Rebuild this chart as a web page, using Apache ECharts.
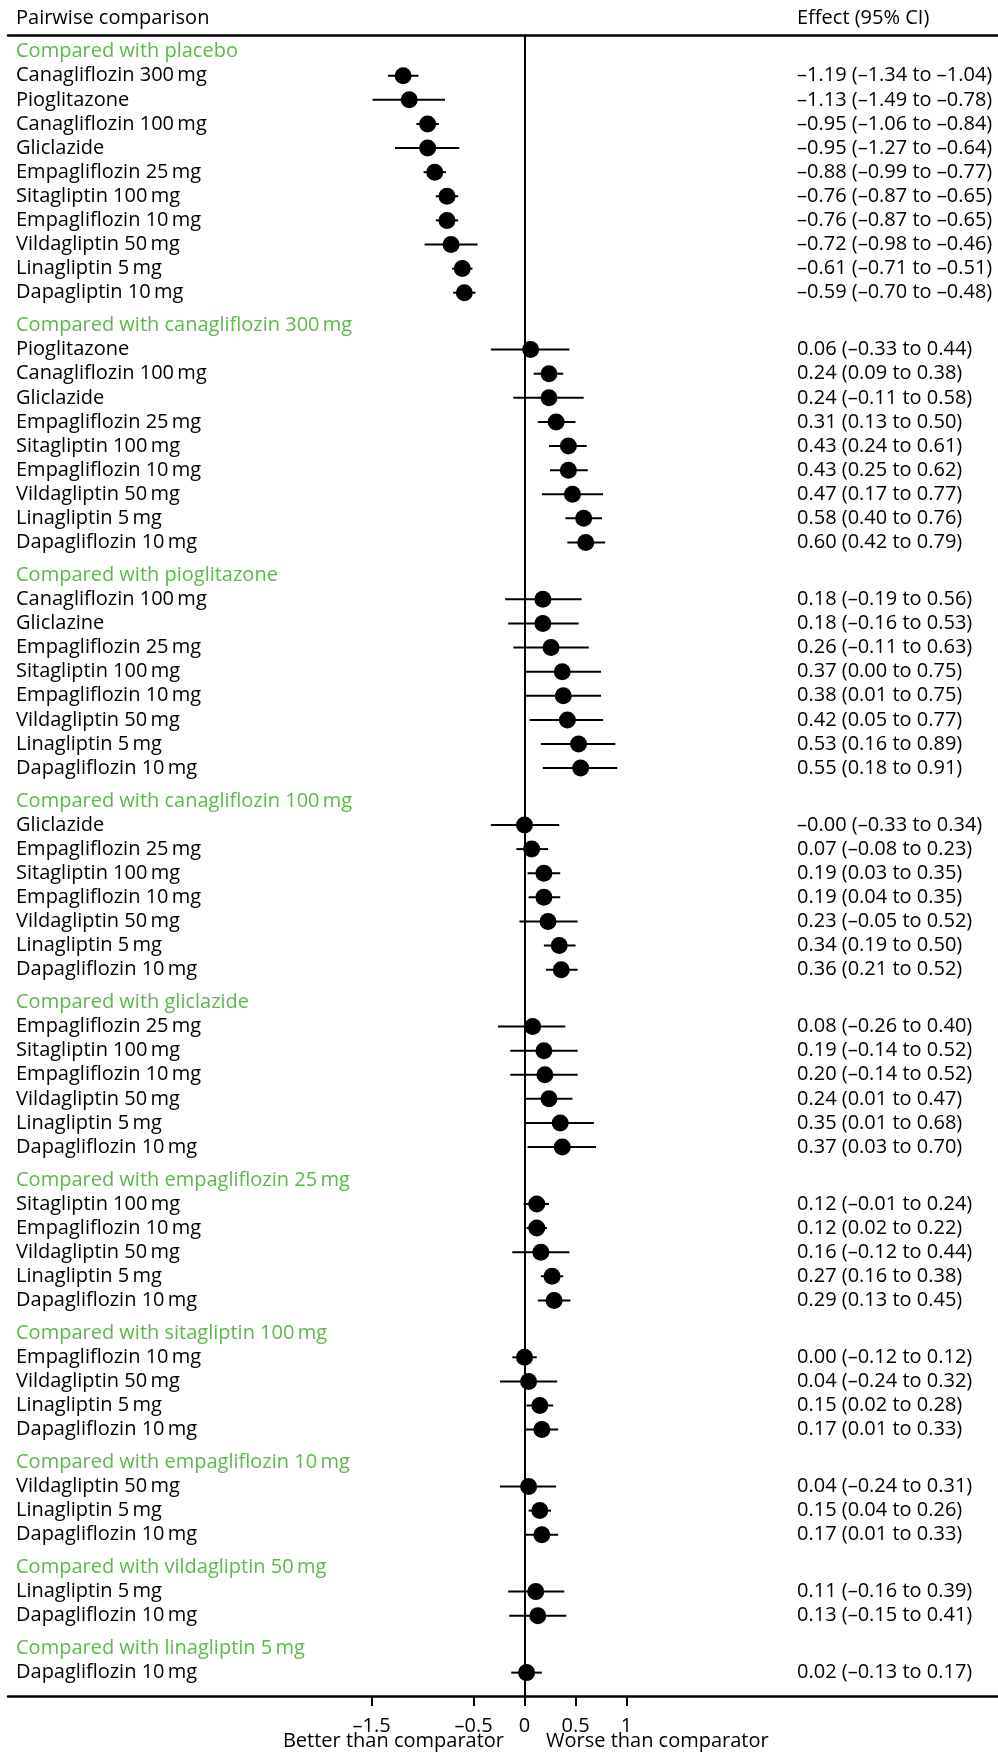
<!DOCTYPE html>
<html><head><meta charset="utf-8">
<script src="https://cdn.jsdelivr.net/npm/echarts@6/dist/echarts.min.js"></script>
<style>html,body{margin:0;padding:0;background:#fff}#c{width:998px;height:1753px}</style>
</head><body><div id="c"></div><script>
const groupTitles = [
  'Compared with placebo',
  'Compared with canagliflozin 300\u2009mg',
  'Compared with pioglitazone',
  'Compared with canagliflozin 100\u2009mg',
  'Compared with gliclazide',
  'Compared with empagliflozin 25\u2009mg',
  'Compared with sitagliptin 100\u2009mg',
  'Compared with empagliflozin 10\u2009mg',
  'Compared with vildagliptin 50\u2009mg',
  'Compared with linagliptin 5\u2009mg'
];
const rowGroup = [
  0,0,0,0,0,0,0,0,0,0,
  1,1,1,1,1,1,1,1,1,
  2,2,2,2,2,2,2,2,
  3,3,3,3,3,3,3,
  4,4,4,4,4,4,
  5,5,5,5,5,
  6,6,6,6,
  7,7,7,
  8,8,
  9
];
const rowLabels = [
  'Canagliflozin 300\u2009mg','Pioglitazone','Canagliflozin 100\u2009mg','Gliclazide','Empagliflozin 25\u2009mg','Sitagliptin 100\u2009mg','Empagliflozin 10\u2009mg','Vildagliptin 50\u2009mg','Linagliptin 5\u2009mg','Dapagliptin 10\u2009mg',
  'Pioglitazone','Canagliflozin 100\u2009mg','Gliclazide','Empagliflozin 25\u2009mg','Sitagliptin 100\u2009mg','Empagliflozin 10\u2009mg','Vildagliptin 50\u2009mg','Linagliptin 5\u2009mg','Dapagliflozin 10\u2009mg',
  'Canagliflozin 100\u2009mg','Gliclazine','Empagliflozin 25\u2009mg','Sitagliptin 100\u2009mg','Empagliflozin 10\u2009mg','Vildagliptin 50\u2009mg','Linagliptin 5\u2009mg','Dapagliflozin 10\u2009mg',
  'Gliclazide','Empagliflozin 25\u2009mg','Sitagliptin 100\u2009mg','Empagliflozin 10\u2009mg','Vildagliptin 50\u2009mg','Linagliptin 5\u2009mg','Dapagliflozin 10\u2009mg',
  'Empagliflozin 25\u2009mg','Sitagliptin 100\u2009mg','Empagliflozin 10\u2009mg','Vildagliptin 50\u2009mg','Linagliptin 5\u2009mg','Dapagliflozin 10\u2009mg',
  'Sitagliptin 100\u2009mg','Empagliflozin 10\u2009mg','Vildagliptin 50\u2009mg','Linagliptin 5\u2009mg','Dapagliflozin 10\u2009mg',
  'Empagliflozin 10\u2009mg','Vildagliptin 50\u2009mg','Linagliptin 5\u2009mg','Dapagliflozin 10\u2009mg',
  'Vildagliptin 50\u2009mg','Linagliptin 5\u2009mg','Dapagliflozin 10\u2009mg',
  'Linagliptin 5\u2009mg','Dapagliflozin 10\u2009mg',
  'Dapagliflozin 10\u2009mg'
];
const effect = [
  -1.19,-1.13,-0.95,-0.95,-0.88,-0.76,-0.76,-0.72,-0.61,-0.59,
  0.06,0.24,0.24,0.31,0.43,0.43,0.47,0.58,0.60,
  0.18,0.18,0.26,0.37,0.38,0.42,0.53,0.55,
  -0.00,0.07,0.19,0.19,0.23,0.34,0.36,
  0.08,0.19,0.20,0.24,0.35,0.37,
  0.12,0.12,0.16,0.27,0.29,
  0.00,0.04,0.15,0.17,
  0.04,0.15,0.17,
  0.11,0.13,
  0.02
];
const lower = [
  -1.34,-1.49,-1.06,-1.27,-0.99,-0.87,-0.87,-0.98,-0.71,-0.70,
  -0.33,0.09,-0.11,0.13,0.24,0.25,0.17,0.40,0.42,
  -0.19,-0.16,-0.11,0.00,0.01,0.05,0.16,0.18,
  -0.33,-0.08,0.03,0.04,-0.05,0.19,0.21,
  -0.26,-0.14,-0.14,0.01,0.01,0.03,
  -0.01,0.02,-0.12,0.16,0.13,
  -0.12,-0.24,0.02,0.01,
  -0.24,0.04,0.01,
  -0.16,-0.15,
  -0.13
];
const upper = [
  -1.04,-0.78,-0.84,-0.64,-0.77,-0.65,-0.65,-0.46,-0.51,-0.48,
  0.44,0.38,0.58,0.50,0.61,0.62,0.77,0.76,0.79,
  0.56,0.53,0.63,0.75,0.75,0.77,0.89,0.91,
  0.34,0.23,0.35,0.35,0.52,0.50,0.52,
  0.40,0.52,0.52,0.47,0.68,0.70,
  0.24,0.22,0.44,0.38,0.45,
  0.12,0.32,0.28,0.33,
  0.31,0.26,0.33,
  0.39,0.41,
  0.17
];
const tickValues = [-1.5, -0.5, 0, 0.5, 1];

// ---- layout (row units) ----
const GAP = 1.36;
const lines = [];
const rowY = [];
let cursor = 0, prev = -1;
rowLabels.forEach((lab, i) => {
  const g = rowGroup[i];
  if (g !== prev) {
    if (prev !== -1) cursor += GAP;
    lines.push({ header: true, text: groupTitles[g], y: cursor });
    prev = g;
  }
  cursor += 1;
  rowY[i] = cursor;
  lines.push({ header: false, i: i, y: cursor });
});
const yMin = -0.69, yMax = cursor + 0.97;

function fmt(v) {
  const neg = v < 0 || Object.is(v, -0);
  return (neg ? '\u2013' : '') + Math.abs(v).toFixed(2);
}
const FONT = '"Open Sans", "Noto Sans", sans-serif';
const GREEN = '#5cb84c';

const chart = echarts.init(document.getElementById('c'), null, { renderer: 'canvas' });
chart.setOption({
  animation: false,
  backgroundColor: '#fff',
  grid: { left: 8, right: 0, top: 35, bottom: 57, outerBoundsMode: 'none' },
  xAxis: [{
    type: 'value', position: 'bottom', min: -5.064, max: 4.642,
    axisLine: { show: true, onZero: false, lineStyle: { color: '#000', width: 2.5 } },
    axisTick: { show: true, customValues: tickValues, length: 10, lineStyle: { color: '#000', width: 2 } },
    axisLabel: { show: true, customValues: tickValues, margin: 20, color: '#000', fontSize: 20, fontFamily: FONT,
      formatter: v => (v < 0 ? '\u2013' + Math.abs(v) : String(v)) },
    splitLine: { show: false }
  }, {
    type: 'value', position: 'top', min: -5.064, max: 4.642,
    axisLine: { show: true, onZero: false, lineStyle: { color: '#000', width: 2.5 } },
    axisTick: { show: false }, axisLabel: { show: false }, splitLine: { show: false }
  }],
  yAxis: { type: 'value', inverse: true, min: yMin, max: yMax, show: false },
  series: [{
    type: 'custom', name: 'ci', xAxisIndex: 0,
    data: rowY.map((y, i) => [lower[i], upper[i], y]),
    renderItem: (params, api) => {
      const a = api.coord([api.value(0), api.value(2)]);
      const b = api.coord([api.value(1), api.value(2)]);
      return { type: 'line', shape: { x1: a[0], y1: a[1], x2: b[0], y2: b[1] }, style: { stroke: '#000', lineWidth: 2 } };
    },
    z: 3
  }, {
    type: 'scatter', name: 'effect', xAxisIndex: 0,
    data: rowY.map((y, i) => [effect[i], y]),
    symbol: 'circle', symbolSize: 17,
    itemStyle: { color: '#000', opacity: 1 },
    z: 4,
    markLine: {
      silent: true, symbol: 'none', label: { show: false },
      lineStyle: { color: '#000', width: 2, type: 'solid' },
      data: [{ xAxis: 0 }]
    }
  }, {
    type: 'custom', name: 'text', xAxisIndex: 0,
    data: lines.map(l => [0, l.y]),
    renderItem: (params, api) => {
      const l = lines[params.dataIndex];
      const py = api.coord([0, l.y])[1];
      const x0 = params.coordSys.x;
      const children = [{
        type: 'text',
        style: { text: l.header ? l.text : rowLabels[l.i], x: x0 + 8, y: py, verticalAlign: 'middle', align: 'left',
          fill: l.header ? GREEN : '#000', fontSize: 20, fontFamily: FONT }
      }];
      if (!l.header) {
        const i = l.i;
        children.push({
          type: 'text',
          style: { text: fmt(effect[i]) + ' (' + fmt(lower[i]) + ' to ' + fmt(upper[i]) + ')', x: x0 + 789, y: py,
            verticalAlign: 'middle', align: 'left', fill: '#000', fontSize: 20, fontFamily: FONT }
        });
      }
      return { type: 'group', children: children };
    },
    z: 5
  }],
  graphic: [
    { type: 'text', left: 16, top: 8, style: { text: 'Pairwise comparison', fill: '#000', fontSize: 20, fontFamily: FONT } },
    { type: 'text', left: 797, top: 8, style: { text: 'Effect (95% CI)', fill: '#000', fontSize: 20, fontFamily: FONT } },
    { type: 'text', right: 998 - 504, top: 1731, style: { text: 'Better than comparator', fill: '#000', fontSize: 20, fontFamily: FONT } },
    { type: 'text', left: 546, top: 1731, style: { text: 'Worse than comparator', fill: '#000', fontSize: 20, fontFamily: FONT } }
  ]
});
</script></body></html>
